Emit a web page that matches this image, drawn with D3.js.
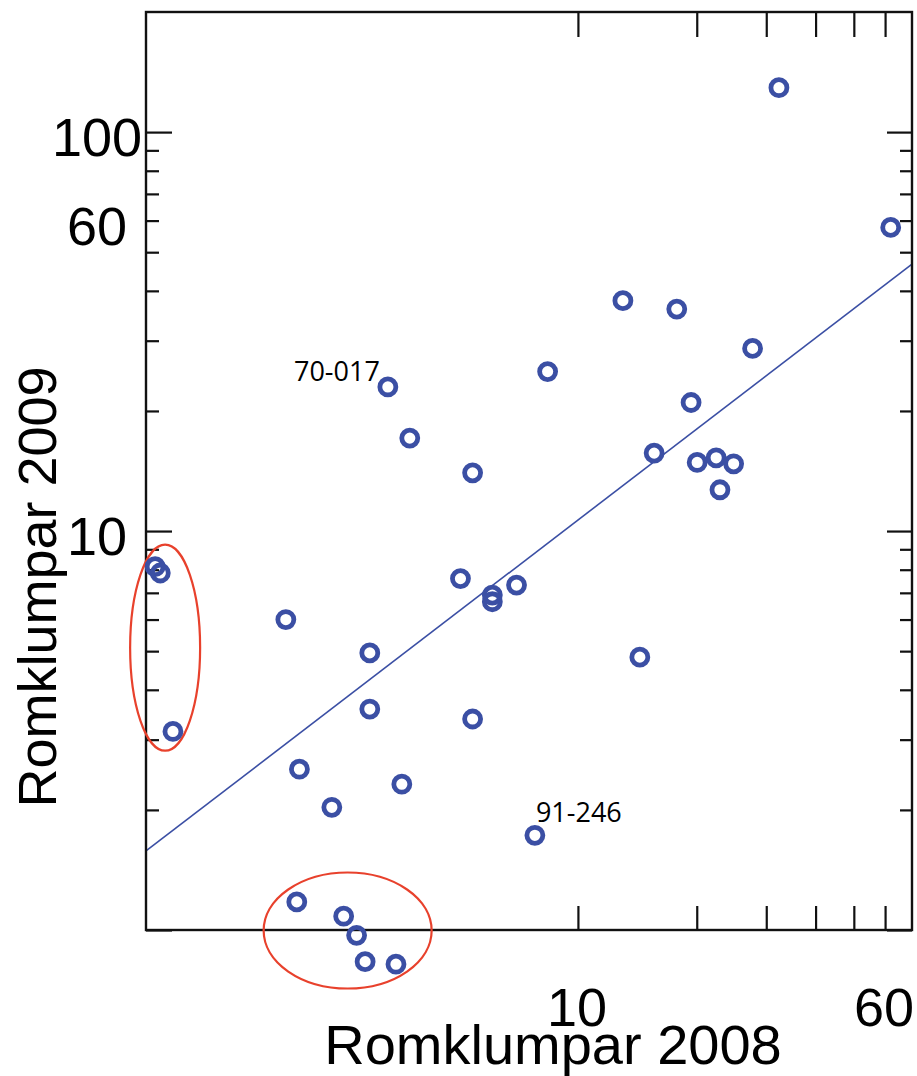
<!DOCTYPE html>
<html>
<head>
<meta charset="utf-8">
<script src="https://cdn.jsdelivr.net/npm/d3@7"></script>
<style>
  body { margin: 0; background: #fff; }
</style>
</head>
<body>
<script>
// Romklumpar 2008 (x) vs 2009 (y)
let x2008 = [32.3, 62.0, 13.0, 17.8, 27.7, 8.38, 3.30, 19.35, 3.75, 15.6, 20.05, 22.4,
  24.8, 5.41, 22.9, 0.849, 0.875, 5.04, 6.07, 6.07, 6.99, 1.82, 2.97, 14.35, 2.97,
  5.41, 0.942, 1.97, 3.58, 2.38, 7.78, 1.94, 2.55, 2.75, 2.89, 3.46];
let y2009 = [129.2, 57.7, 37.8, 36.0, 28.7, 25.1, 22.97, 21.0, 17.1, 15.68, 14.86, 15.26,
  14.74, 13.99, 12.69, 8.14, 7.85, 7.60, 6.91, 6.65, 7.32, 6.00, 4.95, 4.83, 3.58,
  3.38, 3.145, 2.53, 2.32, 2.03, 1.727, 1.176, 1.083, 0.970, 0.833, 0.821];

// labelled points
let labelIdx = [6, 30];
let labelText = ['70-017', '91-246'];

// regression line: y = a * x^b
let fitA = 1.86;
let fitB = 0.758;

// circled groups (centre in data units)
let ringX = [0.90, 2.61];
let ringY = [5.10, 0.997];

let xTicks = [10, 20, 30, 40, 50, 60];
let xLabels = [10, 60];
let yTicks = [1, 2, 3, 4, 5, 6, 7, 8, 9, 10, 20, 30, 40, 50, 60, 70, 80, 90, 100];
let yMajor = [1, 10, 100];
let yLabels = [10, 60, 100];

let blue = '#3b4fa4';
let red = '#e8412c';

let svg = d3.select('body').append('svg')
  .attr('width', 917)
  .attr('height', 1076);

let pl = 146, pr = 912, pt = 12, pb = 930;

let x = d3.scaleLog().domain([0.805, 70.2]).range([pl, pr]);
let y = d3.scaleLog().domain([1, 200]).range([pb, pt]);

// regression line
let lineData = x.domain().map(v => [v, fitA * Math.pow(v, fitB)]);
svg.append('path')
  .datum(lineData)
  .attr('d', d3.line().x(d => x(d[0])).y(d => y(d[1])))
  .attr('fill', 'none')
  .attr('stroke', blue)
  .attr('stroke-width', 1.6);

// frame
svg.append('rect')
  .attr('x', pl).attr('y', pt)
  .attr('width', pr - pl).attr('height', pb - pt)
  .attr('fill', 'none')
  .attr('stroke', '#111')
  .attr('stroke-width', 2.4);

// y axes (ticks point inward)
let yAxisL = svg.append('g')
  .attr('transform', `translate(${pl},0)`)
  .call(d3.axisLeft(y).tickValues(yTicks).tickSize(-13).tickFormat(''));
let yAxisR = svg.append('g')
  .attr('transform', `translate(${pr},0)`)
  .call(d3.axisRight(y).tickValues(yTicks).tickSize(-12).tickFormat(''));
yAxisL.selectAll('.tick line').attr('x2', d => yMajor.includes(d) ? 26 : 13);
yAxisR.selectAll('.tick line').attr('x2', d => yMajor.includes(d) ? -25 : -12);

// x axes
svg.append('g')
  .attr('transform', `translate(0,${pb})`)
  .call(d3.axisBottom(x).tickValues(xTicks).tickSize(-24).tickFormat(''));
svg.append('g')
  .attr('transform', `translate(0,${pt})`)
  .call(d3.axisTop(x).tickValues(xTicks).tickSize(-25).tickFormat(''));

svg.selectAll('.domain').remove();
svg.selectAll('.tick line')
  .attr('stroke', '#111')
  .attr('stroke-width', 2.2);

// tick labels
svg.selectAll('text.ylab')
  .data(yLabels)
  .enter()
  .append('text')
  .attr('class', 'ylab')
  .text(d => d)
  .attr('x', 97)
  .attr('y', d => y(d) + 24)
  .attr('text-anchor', 'middle')
  .attr('font-family', 'Liberation Sans, Arial, sans-serif')
  .attr('font-size', '54px')
  .attr('fill', '#000');

svg.selectAll('text.xlab')
  .data(xLabels)
  .enter()
  .append('text')
  .attr('class', 'xlab')
  .text(d => d)
  .attr('x', d => x(d) - 1)
  .attr('y', 1026)
  .attr('text-anchor', 'middle')
  .attr('font-family', 'Liberation Sans, Arial, sans-serif')
  .attr('font-size', '54px')
  .attr('fill', '#000');

// axis titles
svg.append('text')
  .text('Romklumpar 2008')
  .attr('x', 553)
  .attr('y', 1064)
  .attr('text-anchor', 'middle')
  .attr('font-family', 'Liberation Sans, Arial, sans-serif')
  .attr('font-size', '56px')
  .attr('fill', '#000');

svg.append('text')
  .text('Romklumpar 2009')
  .attr('transform', 'translate(56,587) rotate(-90)')
  .attr('text-anchor', 'middle')
  .attr('font-family', 'Liberation Sans, Arial, sans-serif')
  .attr('font-size', '54px')
  .attr('fill', '#000');

// red rings around the zero groups
let ringRx = [35, 84], ringRy = [103, 58];
svg.selectAll('ellipse.ring')
  .data(ringX)
  .enter()
  .append('ellipse')
  .attr('class', 'ring')
  .attr('cx', d => x(d))
  .attr('cy', (d, i) => y(ringY[i]))
  .attr('rx', (d, i) => ringRx[i])
  .attr('ry', (d, i) => ringRy[i])
  .attr('fill', 'none')
  .attr('stroke', red)
  .attr('stroke-width', 2.2);

// points
let points = x2008.map((v, i) => ({ x: v, y: y2009[i] }));
svg.selectAll('circle.pt')
  .data(points)
  .enter()
  .append('circle')
  .attr('class', 'pt')
  .attr('cx', d => x(d.x))
  .attr('cy', d => y(d.y))
  .attr('r', 8)
  .attr('fill', 'none')
  .attr('stroke', blue)
  .attr('stroke-width', 4.8);

// point labels
let lblDx = [-8, 1], lblDy = [-6, -13];
svg.selectAll('text.ptlab')
  .data(labelIdx)
  .enter()
  .append('text')
  .attr('class', 'ptlab')
  .text((d, i) => labelText[i])
  .attr('x', (d, i) => x(x2008[d]) + lblDx[i])
  .attr('y', (d, i) => y(y2009[d]) + lblDy[i])
  .attr('text-anchor', (d, i) => i === 0 ? 'end' : 'start')
  .attr('font-family', 'Open Sans, sans-serif')
  .attr('font-size', '27px')
  .attr('fill', '#000');
</script>
</body>
</html>
